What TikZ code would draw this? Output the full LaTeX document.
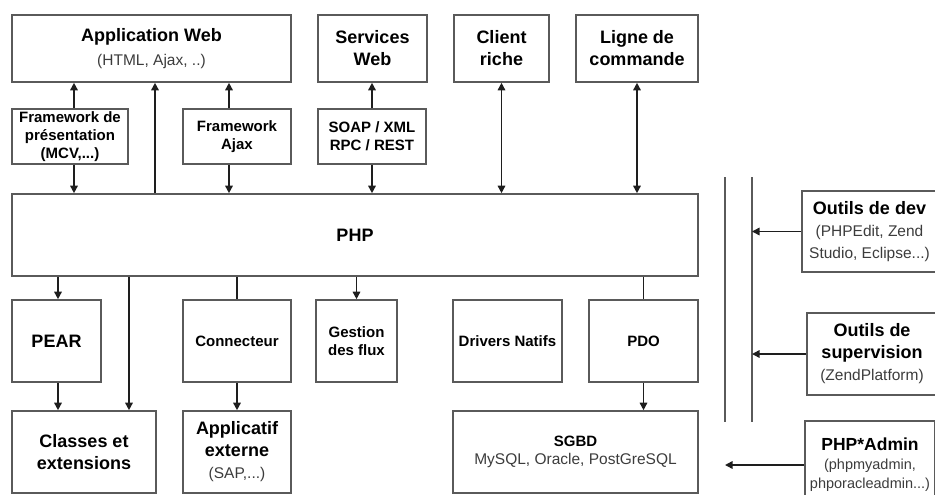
\documentclass[tikz,border=0pt]{standalone}
\usepackage{fontspec}
\setmainfont{Liberation Sans}
\usetikzlibrary{arrows.meta}
\usepackage{xcolor}
\definecolor{boxgray}{RGB}{90,90,90}
\definecolor{subgray}{RGB}{60,60,60}
\definecolor{arrowgray}{RGB}{30,30,30}
\newcommand{\gtxt}[1]{{\mdseries\color{subgray}\fontsize{15.5}{18}\selectfont #1}}
\newcommand{\stxt}[1]{{\mdseries\color{subgray}\fontsize{14.5}{17}\selectfont #1}}

\begin{document}
\begin{tikzpicture}[x=1pt,y=-1pt,
    >={Triangle[length=7.5pt,width=7.5pt]},
    box/.style={draw=boxgray,line width=1.6pt,inner sep=0pt,align=center,
      font=\bfseries\fontsize{18}{22}\selectfont},
    smallbox/.style={box,font=\bfseries\fontsize{15}{18}\selectfont},
    link/.style={draw=arrowgray,line width=1.5pt},
    rail/.style={draw=boxgray,line width=1.6pt}]
  \useasboundingbox (0,0) rectangle (935,495);
  \clip (0,0) rectangle (935,495);

  % top row
  \node[box,minimum width=279,minimum height=67] (appweb) at (151.5,48.5)
    {Application Web\\[2pt]\gtxt{(HTML, Ajax, ..)}};
  \node[box,minimum width=109,minimum height=67] (services) at (372.5,48.5) {Services\\Web};
  \node[box,minimum width=95,minimum height=67] (client) at (501.5,48.5) {Client\\riche};
  \node[box,minimum width=122,minimum height=67] (ligne) at (637,48.5) {Ligne de\\commande};

  % frameworks
  \node[smallbox,minimum width=116,minimum height=55] (fwpres) at (70,136.5)
    {Framework de\\présentation\\(MCV,...)};
  \node[smallbox,minimum width=108,minimum height=55] (fwajax) at (237,136.5) {Framework\\Ajax};
  \node[smallbox,minimum width=108,minimum height=55] (soap) at (372,136.5) {SOAP / XML\\RPC / REST};

  % core
  \node[box,minimum width=686,minimum height=82] (php) at (355,235) {PHP};

  % below php
  \node[box,minimum width=89,minimum height=82] (pear) at (56.5,341) {PEAR};
  \node[smallbox,minimum width=108,minimum height=82] (connect) at (237,341) {Connecteur};
  \node[smallbox,minimum width=81,minimum height=82] (gestion) at (356.5,341) {Gestion\\des flux};
  \node[smallbox,minimum width=109,minimum height=82] (drivers) at (507.5,341) {Drivers Natifs};
  \node[smallbox,minimum width=109,minimum height=82] (pdo) at (643.5,341) {PDO};

  % bottom row
  \node[box,minimum width=144,minimum height=82] (classes) at (84,452) {Classes et\\extensions};
  \node[box,minimum width=108,minimum height=82] (applic) at (237,452)
    {Applicatif\\externe\\\gtxt{(SAP,...)}};
  \node[smallbox,minimum width=245,minimum height=82] (sgbd) at (575.5,452)
    {SGBD\\\gtxt{MySQL, Oracle, PostGreSQL}};

  % tools on the right
  \node[box,minimum width=135,minimum height=81] (dev) at (869.5,231.5)
    {Outils de dev\\\gtxt{(PHPEdit, Zend}\\\gtxt{Studio, Eclipse...)}};
  \node[box,minimum width=130,minimum height=82] (superv) at (872,354)
    {Outils de\\supervision\\\gtxt{(ZendPlatform)}};
  \node[box,minimum width=130,minimum height=88,
    font=\bfseries\fontsize{17.5}{20}\selectfont] (admin) at (870,465)
    {PHP*Admin\\[-1pt]\stxt{(phpmyadmin,}\\[-1pt]\stxt{phporacleadmin...)}};

  \coordinate (outer) at (725,177);
  \coordinate (inner) at (752,177);
  \draw[rail] (outer) -- (725,422);
  \draw[rail] (inner) -- (752,422);

  % connectors
  \draw[link,->] ([xshift=4]fwpres.north) -- ([xshift=4]fwpres.north |- appweb.south);
  \draw[link,->] ([xshift=4]fwpres.south) -- ([xshift=4]fwpres.south |- php.north);
  \draw[link,->] ([xshift=-200]php.north) -- ([xshift=-200]php.north |- appweb.south);
  \draw[link,->] ([xshift=-8]fwajax.north) -- ([xshift=-8]fwajax.north |- appweb.south);
  \draw[link,->] ([xshift=-8]fwajax.south) -- ([xshift=-8]fwajax.south |- php.north);
  \draw[link,->] (soap.north) -- (soap.north |- services.south);
  \draw[link,->] (soap.south) -- (soap.south |- php.north);
  \draw[link,<->] (php.north -| client) -- (client.south);
  \draw[link,<->] (php.north -| ligne) -- (ligne.south);

  \draw[link,->] ([xshift=1.5]pear.north |- php.south) -- ([xshift=1.5]pear.north);
  \draw[link,->] ([xshift=-226]php.south) -- ([xshift=-226]php.south |- classes.north);
  \draw[link] (php.south -| connect) -- (connect.north);
  \draw[link,->] (php.south -| gestion) -- (gestion.north);
  \draw[link] (php.south -| pdo) -- (pdo.north);

  \draw[link,->] ([xshift=1.5]pear.south) -- ([xshift=1.5]pear.south |- classes.north);
  \draw[link,->] (connect.south) -- (applic.north);
  \draw[link,->] (pdo.south) -- (pdo.south |- sgbd.north);

  \draw[link,->] (dev.west) -- (dev.west -| inner);
  \draw[link,->] (superv.west) -- (superv.west -| inner);
  \draw[link,->] (admin.west) -- (admin.west -| outer);
\end{tikzpicture}
\end{document}
